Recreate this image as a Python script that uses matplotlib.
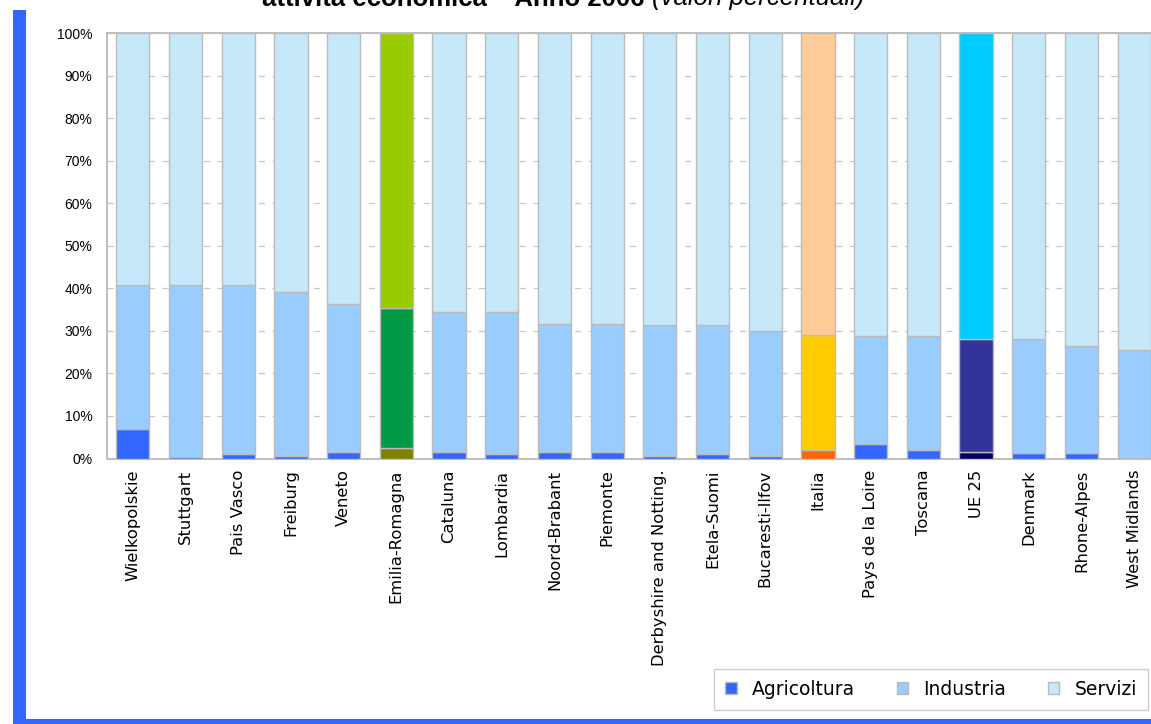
import numpy as np
import matplotlib as mpl
mpl.use('Agg')
import matplotlib.pyplot as plt
from matplotlib.patches import Patch, Rectangle

regioni = ["Wielkopolskie", "Stuttgart", "Pais Vasco", "Freiburg", "Veneto",
           "Emilia-Romagna", "Cataluna", "Lombardia", "Noord-Brabant", "Piemonte",
           "Derbyshire and Notting.", "Etela-Suomi", "Bucaresti-Ilfov", "Italia",
           "Pays de la Loire", "Toscana", "UE 25", "Denmark", "Rhone-Alpes",
           "West Midlands"]
agricoltura = [6.9, 0.4, 1.1, 0.6, 1.5, 2.4, 1.5, 1.1, 1.5, 1.5,
               0.5, 1.1, 0.5, 2.0, 3.3, 2.0, 1.6, 1.2, 1.2, 0.2]
# agricoltura + industria (top of the middle segment)
agr_ind = [40.9, 40.9, 40.9, 39.2, 36.4, 35.4, 34.5, 34.5, 31.7, 31.7,
           31.3, 31.3, 30.0, 29.1, 28.7, 28.7, 28.2, 28.2, 26.5, 25.4]

agricoltura = np.array(agricoltura)
industria = np.array(agr_ind) - agricoltura
servizi = 100 - np.array(agr_ind)

# colours: default and highlighted bars
col_std = ["#3366FF", "#99CCFF", "#C5E9F9"]
col_speciali = {
    "Emilia-Romagna": ["#808000", "#009A46", "#99CC00"],
    "Italia": ["#FF6600", "#FFCC00", "#FFCC99"],
    "UE 25": ["#000066", "#333399", "#00CCFF"],
}

W, H = 1151, 724
fig = plt.figure(figsize=(W / 100, H / 100), dpi=100)
ax = fig.add_axes([106.5 / W, 1 - 458.5 / H, (1160.5 - 106.5) / W, (458.5 - 33.3) / H])

x = np.arange(len(regioni))
cols = [col_speciali.get(r, col_std) for r in regioni]
edge = "#BBBBBB"
ax.bar(x, agricoltura, 0.63, color=[c[0] for c in cols], edgecolor=edge, linewidth=1.0, zorder=3)
ax.bar(x, industria, 0.63, bottom=agricoltura, color=[c[1] for c in cols],
       edgecolor=edge, linewidth=1.0, zorder=3)
ax.bar(x, servizi, 0.63, bottom=agricoltura + industria, color=[c[2] for c in cols],
       edgecolor=edge, linewidth=1.0, zorder=3)

ax.set_xlim(-0.5, len(regioni) - 0.5)
ax.set_ylim(0, 100)
ax.set_yticks(np.arange(0, 101, 10))
ax.set_yticklabels([f"{v}%" for v in range(0, 101, 10)], family="Liberation Sans", fontsize=10)
ax.set_xticks(x)
ax.set_xticklabels(regioni, rotation=90, fontsize=11.8, family="DejaVu Sans", va="top")
ax.tick_params(axis="both", length=0)
ax.tick_params(axis="y", pad=10)
ax.tick_params(axis="x", pad=8)
ax.yaxis.grid(True, color="#C8C8C8", linestyle=(0, (5, 6)), linewidth=0.9, zorder=0)
ax.set_axisbelow(True)
for s in ["left", "bottom", "top"]:
    ax.spines[s].set_color("#C0C0C0")
    ax.spines[s].set_linewidth(1.5)
ax.spines["right"].set_visible(False)

# legend
handles = [Patch(facecolor=c, edgecolor="#BBBBBB", linewidth=1.0) for c in col_std]
leg = fig.legend(handles, ["Agricoltura", "Industria", "Servizi"], ncol=3,
                 loc="lower right", bbox_to_anchor=(1148 / W, 1 - 710 / H),
                 fontsize=13.5, frameon=True, fancybox=False, edgecolor="#C0C0C0",
                 handlelength=0.6, handleheight=0.6, handletextpad=0.8,
                 columnspacing=2.25, borderpad=0.6, borderaxespad=0)
leg.get_frame().set_linewidth(1.0)

# title (cut at the top in the original)
t1 = fig.text(262 / W, 1 - 5.5 / H, "attività economica – Anno 2006 ", fontsize=18.5,
              fontweight="bold", family="Liberation Sans", ha="left", va="baseline")
fig.canvas.draw()
bb = t1.get_window_extent(fig.canvas.get_renderer())
fig.text(bb.x1 / W, 1 - 5.5 / H, "(valori percentuali)", fontsize=18.5, style="italic",
         family="Liberation Sans", ha="left", va="baseline")

# blue frame on the left and bottom
blu = "#3366FF"
fig.patches.append(Rectangle((13 / W, 0), 13 / W, 1 - 10 / H, transform=fig.transFigure,
                             facecolor=blu, edgecolor="none"))
fig.patches.append(Rectangle((13 / W, 0), 1, 5 / H, transform=fig.transFigure,
                             facecolor=blu, edgecolor="none"))

fig.savefig("out.png", dpi=100)
